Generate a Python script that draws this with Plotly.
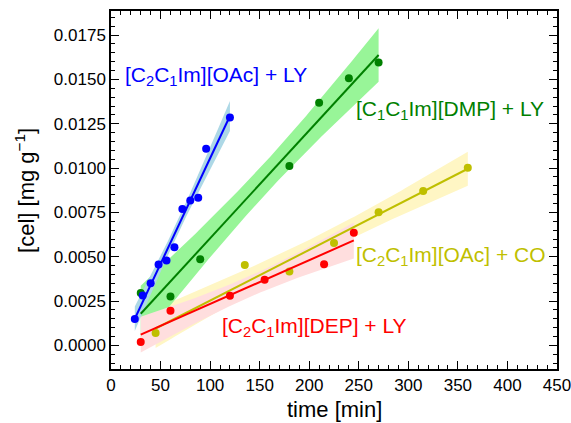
import numpy as np
import plotly.graph_objects as go

# ---- data ----
blue_t = [24, 32, 40, 48, 56, 64, 72, 80, 88, 96, 120]
blue_v = [0.00149, 0.00282, 0.00351, 0.00456, 0.00479, 0.00554, 0.00770, 0.00817, 0.00833, 0.01109, 0.01286]

green_t = [30, 60, 90, 180, 210, 240, 270]
green_v = [0.00295, 0.00276, 0.00486, 0.01012, 0.01368, 0.01507, 0.01596]

olive_t = [45, 135, 180, 225, 270, 315, 360]
olive_v = [0.00070, 0.00454, 0.00417, 0.00578, 0.00751, 0.00871, 0.01002]

red_t = [30, 60, 120, 155, 215, 245]
red_v = [0.00019, 0.00195, 0.00280, 0.00370, 0.00458, 0.00636]

labels = {
    "blue": "[C<sub>2</sub>C<sub>1</sub>Im][OAc] + LY",
    "green": "[C<sub>1</sub>C<sub>1</sub>Im][DMP] + LY",
    "olive": "[C<sub>2</sub>C<sub>1</sub>Im][OAc] + CO",
    "red": "[C<sub>2</sub>C<sub>1</sub>Im][DEP] + LY",
}
x_title = "time [min]"
y_title = "[cel] [mg g<sup>\u22121</sup>]"

# 95% two-sided t critical values by degrees of freedom
T_CRIT = {4: 2.776, 5: 2.571, 9: 2.262}

FONT = "Liberation Sans, Arial, sans-serif"


def fit_band(t, v):
    t = np.asarray(t, float)
    v = np.asarray(v, float)
    n = len(t)
    b, a = np.polyfit(t, v, 1)
    res = v - (a + b * t)
    s = np.sqrt(np.sum(res ** 2) / (n - 2))
    sxx = np.sum((t - t.mean()) ** 2)
    g = np.linspace(t.min(), t.max(), 100)
    yhat = a + b * g
    hw = T_CRIT[n - 2] * s * np.sqrt(1.0 / n + (g - t.mean()) ** 2 / sxx)
    return g, yhat, yhat - hw, yhat + hw


series = [
    ("olive", olive_t, olive_v, "#bfbf00", "#fff6c4"),
    ("green", green_t, green_v, "#008000", "#98f598"),
    ("blue", blue_t, blue_v, "#0000ff", "#add8e6"),
    ("red", red_t, red_v, "#ff0000", "#ffdede"),
]

fig = go.Figure()
fits = {}
for key, t, v, lc, bc in series:
    g, yhat, lo, hi = fit_band(t, v)
    fits[key] = (g, yhat)
    fig.add_trace(go.Scatter(
        x=np.concatenate([g, g[::-1]]), y=np.concatenate([hi, lo[::-1]]),
        fill="toself", fillcolor=bc, line=dict(width=0), mode="lines",
        hoverinfo="skip", showlegend=False))

for key, t, v, lc, bc in series:
    g, yhat = fits[key]
    fig.add_trace(go.Scatter(x=[g[0], g[-1]], y=[yhat[0], yhat[-1]], mode="lines",
                             line=dict(color=lc, width=2), showlegend=False))
    fig.add_trace(go.Scatter(x=t, y=v, mode="markers",
                             marker=dict(color=lc, size=8), showlegend=False))

ann = [
    ("blue", 12.6, 0.01519, "#0000ff"),
    ("green", 245.0, 0.01327, "#008000"),
    ("olive", 245.0, 0.00505, "#bfbf00"),
    ("red", 110.0, 0.00105, "#ff0000"),
]
for key, x, y, c in ann:
    fig.add_annotation(x=x, y=y, xref="x", yref="y", text=labels[key], showarrow=False,
                       xanchor="left", yanchor="middle", font=dict(size=21, color=c, family=FONT))

# axis titles placed as annotations (pixel-controlled)
fig.add_annotation(x=0.5, y=-0.1145, xref="paper", yref="paper", yanchor="middle", text=x_title,
                   showarrow=False, font=dict(size=22, color="black", family=FONT))
fig.add_annotation(x=-0.193, y=0.5, xref="paper", yref="paper", xanchor="center", text=y_title,
                   textangle=-90, showarrow=False, font=dict(size=22, color="black", family=FONT))

axis_common = dict(
    showline=True, linecolor="black", linewidth=1.5, mirror="allticks",
    ticks="inside", ticklen=8, tickwidth=1.2, tickcolor="black",
    showgrid=False, zeroline=False, automargin=False, ticklabeloverflow="allow",
    tickfont=dict(size=17, color="black", family=FONT),
)
fig.update_xaxes(range=[0, 450], dtick=50, tick0=0,
                 minor=dict(dtick=10, ticks="inside", ticklen=4, tickcolor="black", tickwidth=1),
                 **axis_common)
fig.update_yaxes(range=[-0.00133, 0.01886], dtick=0.0025, tick0=0, tickformat=".4f",
                 minor=dict(dtick=0.0005, ticks="inside", ticklen=4, tickcolor="black", tickwidth=1),
                 **axis_common)

fig.update_layout(
    width=571, height=423,
    margin=dict(l=111, r=14, t=11, b=54),
    plot_bgcolor="white", paper_bgcolor="white",
    font=dict(family=FONT, color="black"),
)

fig.write_html("out.html")
